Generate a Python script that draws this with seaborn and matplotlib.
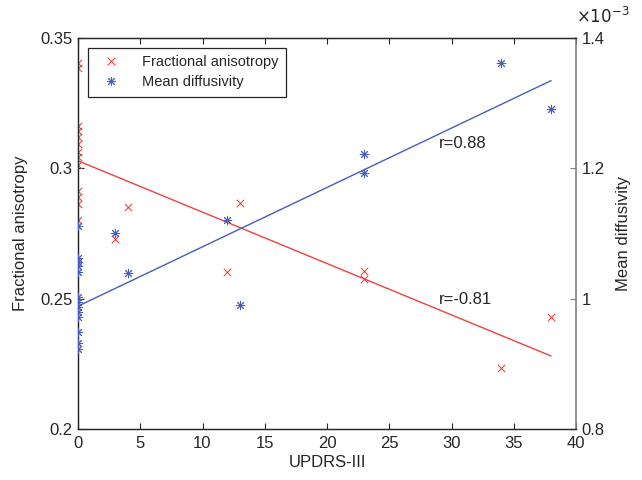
import numpy as np
import pandas as pd
import matplotlib
matplotlib.use("Agg")
import matplotlib.pyplot as plt
import seaborn as sns
from matplotlib.ticker import FuncFormatter
from matplotlib.lines import Line2D

sns.set_style("ticks")
plt.rcParams['font.family'] = ['Liberation Sans', 'DejaVu Sans']
plt.rcParams['xtick.direction'] = 'in'
plt.rcParams['ytick.direction'] = 'in'

# ---- data ----
fa_x = [0]*13 + [3, 4, 12, 13, 23, 23, 34, 38]
fa_y = [0.3404, 0.3385, 0.3163, 0.3144, 0.3120, 0.3094, 0.3063, 0.3044,
        0.3013, 0.2913, 0.2890, 0.2863, 0.2802,
        0.2728, 0.2851, 0.2602, 0.2866, 0.2606, 0.2576, 0.2235, 0.2429]
md_x = [0]*13 + [3, 4, 12, 13, 23, 23, 34, 38]
md_y = [1.1116, 1.0625, 1.0563, 1.0502, 1.0410, 1.0026, 0.9949, 0.9873,
        0.9796, 0.9719, 0.9489, 0.9320, 0.9228,
        1.1013, 1.0400, 1.1208, 0.9900, 1.2220, 1.1930, 1.3613, 1.2912]  # x1e-3
fit_x = [0, 38]
fa_fit = [0.3029, 0.2280]
md_fit = [0.9885, 1.3346]  # x1e-3
x_ticks = [0, 5, 10, 15, 20, 25, 30, 35, 40]
fa_ticks = [0.2, 0.25, 0.3, 0.35]
md_ticks = [0.8, 1.0, 1.2, 1.4]
labels = ["Fractional anisotropy", "Mean diffusivity"]
r_labels = ["r=0.88", "r=-0.81"]

RED = '#f04040'
BLUE = '#4a5cbc'

df_fa = pd.DataFrame({'x': fa_x, 'y': fa_y})
df_md = pd.DataFrame({'x': md_x, 'y': md_y})
df_fit = pd.DataFrame({'x': fit_x, 'fa': fa_fit, 'md': md_fit})

fig = plt.figure(figsize=(6.42, 4.8), dpi=100)
ax = fig.add_axes([78/642, 51/480, 498/642, 391/480])
ax2 = ax.twinx()

sns.scatterplot(data=df_fa, x='x', y='y', ax=ax, marker='x', color=RED,
                s=28, linewidth=0.75, legend=False, zorder=3)
sns.lineplot(data=df_fit, x='x', y='fa', ax=ax, color=RED, linewidth=1.0)

sns.scatterplot(data=df_md, x='x', y='y', ax=ax2, marker=(8, 2, 0), color=BLUE,
                s=38, linewidth=0.7, legend=False, zorder=3)
sns.lineplot(data=df_fit, x='x', y='md', ax=ax2, color=BLUE, linewidth=1.0)

ax.set_xlim(0, 40)
ax.set_ylim(0.2, 0.35)
ax2.set_ylim(0.8, 1.4)
ax.set_xticks(x_ticks)
ax.set_yticks(fa_ticks)
ax2.set_yticks(md_ticks)
fmt = FuncFormatter(lambda v, p: f"{v:g}")
ax.xaxis.set_major_formatter(fmt)
ax.yaxis.set_major_formatter(fmt)
ax2.yaxis.set_major_formatter(fmt)

ax.tick_params(axis='x', top=True, direction='in', length=4, labelsize=12, pad=5,
               color='#262626')
ax.tick_params(axis='y', direction='in', length=4, labelsize=12, pad=4, color='#262626')
ax2.tick_params(axis='y', direction='in', length=4, labelsize=12, pad=4, color='#7f7f7f')

for s in ['left', 'bottom', 'top']:
    ax.spines[s].set_color('#262626')
    ax2.spines[s].set_color('#262626')
    ax.spines[s].set_linewidth(0.9)
    ax2.spines[s].set_linewidth(0.9)
ax2.spines['right'].set_color('#808080')
ax2.spines['right'].set_linewidth(1.2)
ax.spines['right'].set_visible(False)

ax.set_xlabel("UPDRS-III", fontsize=12, labelpad=3)
ax.set_ylabel("Fractional anisotropy", fontsize=12, labelpad=9)
ax2.set_ylabel("Mean diffusivity", fontsize=12, labelpad=8)

ax2.text(1.0, 1.03, r"$\times10^{-3}$", transform=ax2.transAxes, fontsize=12,
         ha='left', va='bottom')

ax.text(29.0, 0.3096, r_labels[0], fontsize=12, ha='left', va='center')
ax.text(29.0, 0.2495, r_labels[1], fontsize=12, ha='left', va='center')

handles = [Line2D([], [], linestyle='none', marker='x', color=RED, markersize=5.5,
                  markeredgewidth=0.75),
           Line2D([], [], linestyle='none', marker=(8, 2, 0), color=BLUE, markersize=6.5,
                  markeredgewidth=0.7)]
leg = ax.legend(handles, labels, loc='upper left', bbox_to_anchor=(0.02, 0.974),
                borderaxespad=0, fontsize=10.5, frameon=True, fancybox=False,
                edgecolor='#262626', framealpha=1, borderpad=0.5, handletextpad=1.0,
                labelspacing=0.4, handlelength=2.2)
leg.get_frame().set_linewidth(0.9)
leg.set_zorder(5)

fig.savefig("out.png", dpi=100)
